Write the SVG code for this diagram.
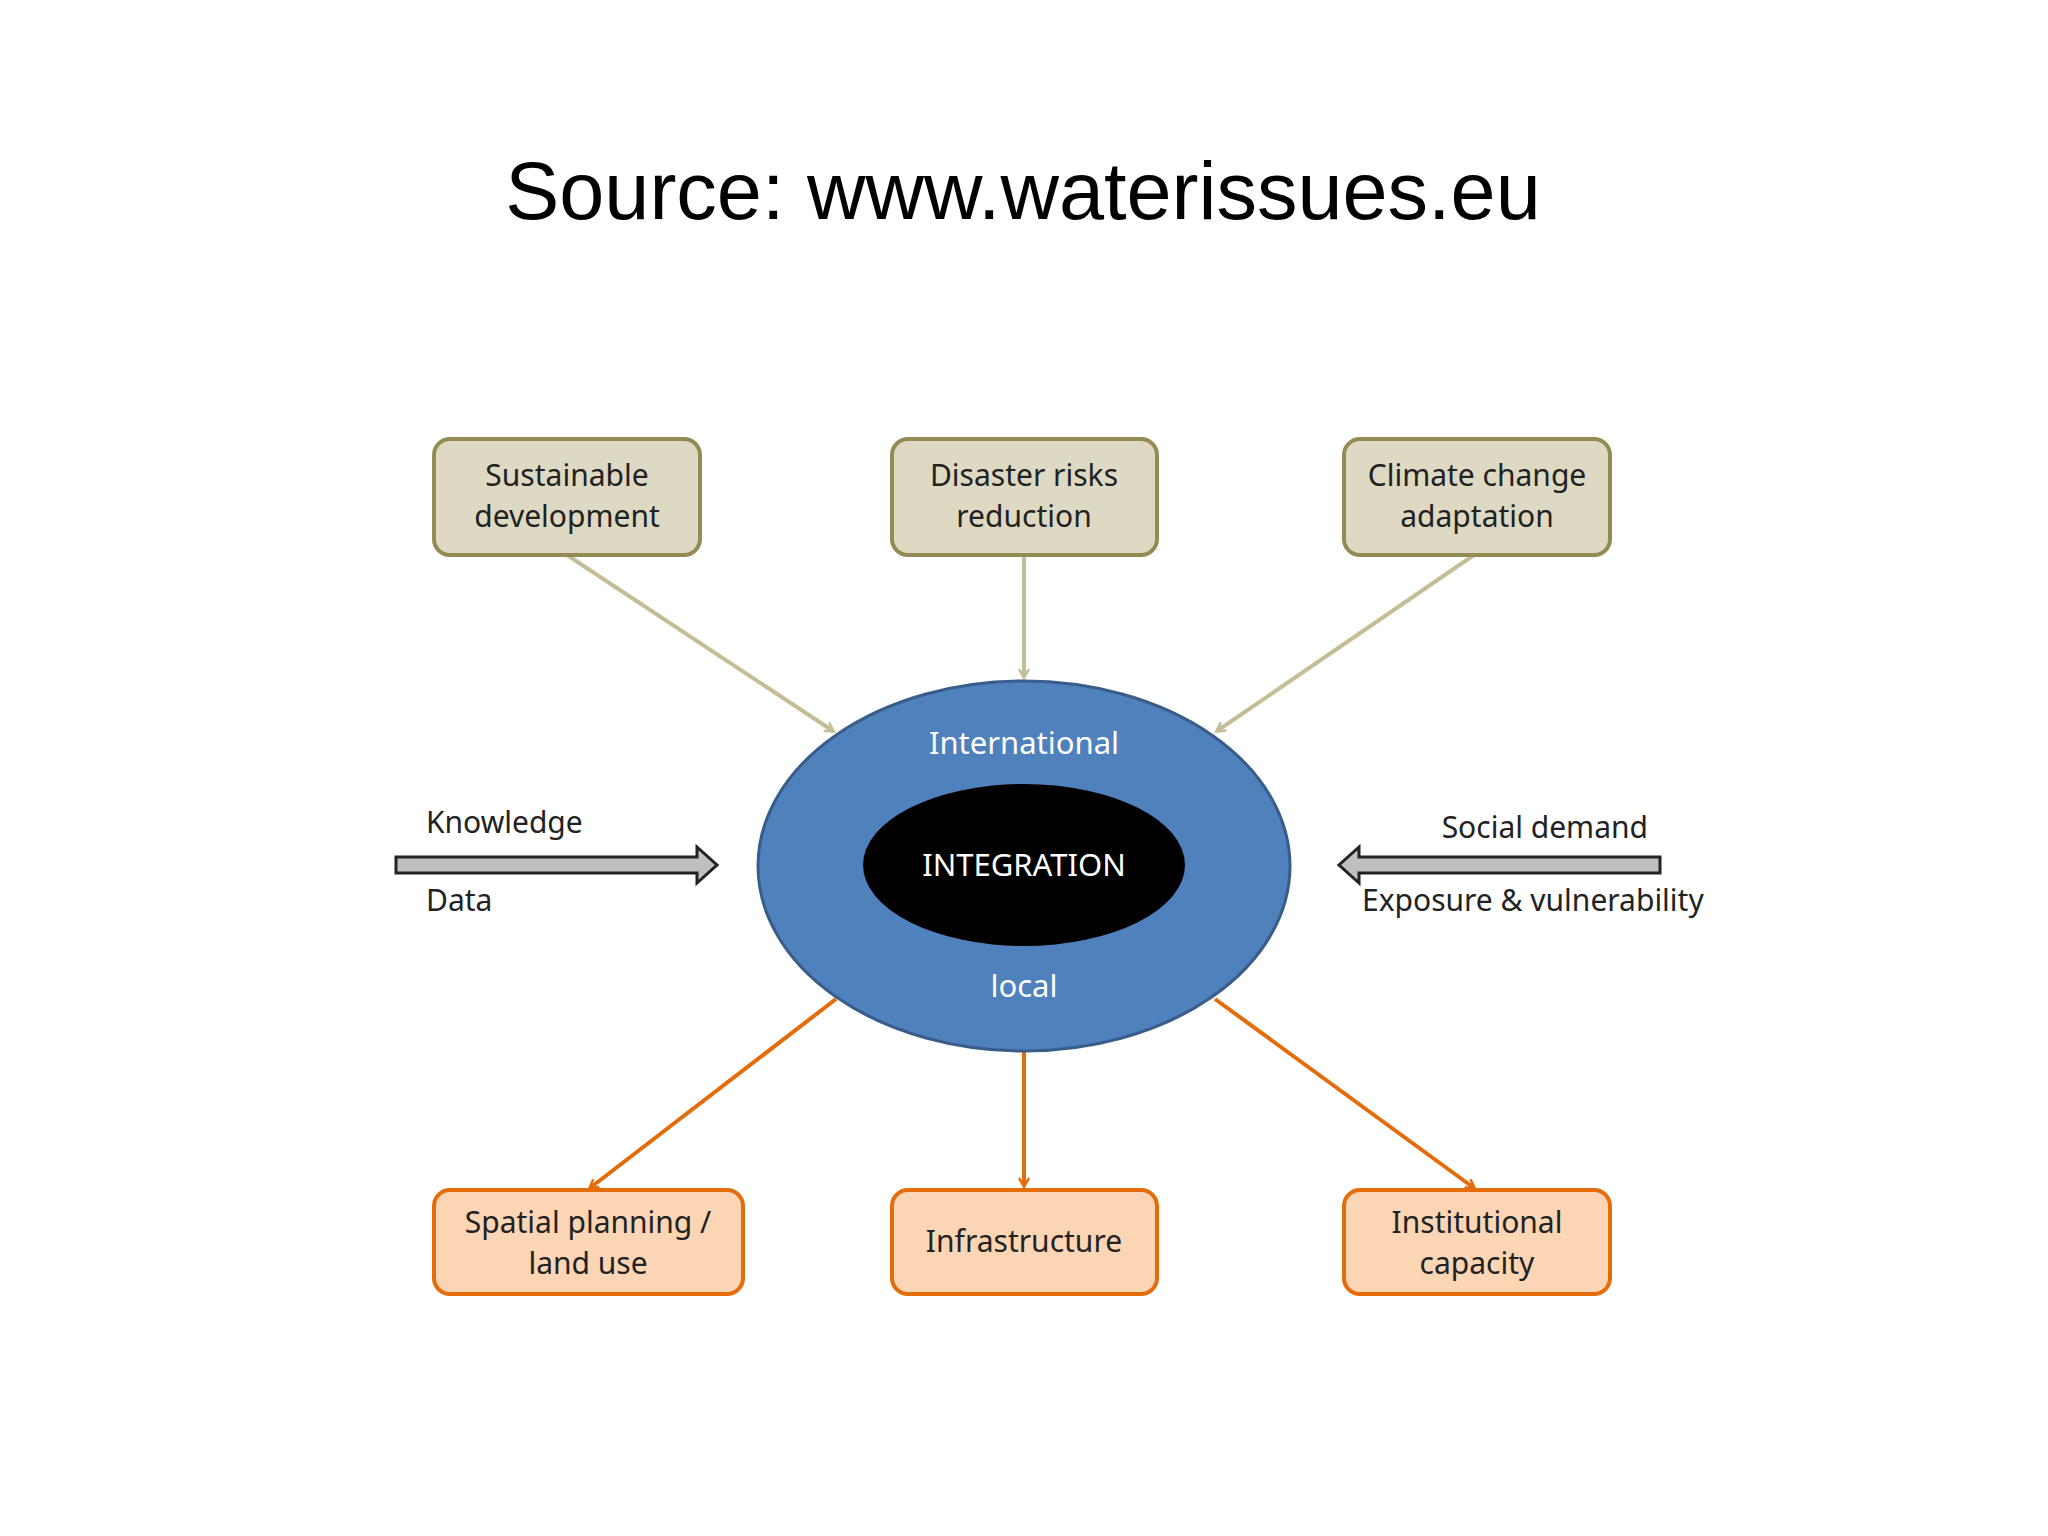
<svg xmlns="http://www.w3.org/2000/svg" width="2048" height="1536" viewBox="0 0 2048 1536">
<style>
.t{font-family:"Noto Sans","Open Sans",sans-serif;font-size:30px;fill:#222;text-anchor:middle}
.w{fill:#fff;font-size:31px}
.top{fill:#ddd9c3;stroke:#948a54;stroke-width:4}
.bot{fill:#fcd5b5;stroke:#e46c0a;stroke-width:4}
.ta{stroke:#c4bd97;stroke-width:4;fill:none;marker-end:url(#mt)}
.ba{stroke:#e46c0a;stroke-width:4;fill:none;marker-end:url(#mb)}
</style>
<defs>
<marker id="mt" markerWidth="12" markerHeight="12" refX="9" refY="6" orient="auto" markerUnits="userSpaceOnUse" viewBox="0 0 12 12"><path d="M1,1 L10,6 L1,11" fill="none" stroke="#c4bd97" stroke-width="2.5"/></marker>
<marker id="mb" markerWidth="12" markerHeight="12" refX="9" refY="6" orient="auto" markerUnits="userSpaceOnUse" viewBox="0 0 12 12"><path d="M1,1 L10,6 L1,11" fill="none" stroke="#e46c0a" stroke-width="2.5"/></marker>
</defs>
<rect width="2048" height="1536" fill="#fff"/>
<text x="1023" y="219" style="font-family:'Liberation Sans',Arial,sans-serif;font-size:81px;text-anchor:middle;fill:#000">Source: www.waterissues.eu</text>
<g id="connectors">
<line class="ta" x1="567" y1="555" x2="833" y2="731"/>
<line class="ta" x1="1024" y1="555" x2="1024" y2="677"/>
<line class="ta" x1="1474" y1="555" x2="1217" y2="731"/>
<line class="ba" x1="836" y1="999" x2="590" y2="1188"/>
<line class="ba" x1="1024" y1="1051" x2="1024" y2="1186"/>
<line class="ba" x1="1215" y1="999" x2="1474" y2="1188"/>
<path d="M396,857 H697 V847 L717,865 L697,883 V873 H396 Z" fill="#bfbfbf" stroke="#222" stroke-width="3"/>
<path d="M1660,857 H1359 V847 L1339,865 L1359,883 V873 H1660 Z" fill="#bfbfbf" stroke="#222" stroke-width="3"/>
<text class="t" x="426" y="833" style="text-anchor:start">Knowledge</text>
<text class="t" x="426" y="911" style="text-anchor:start">Data</text>
<text class="t" x="1648" y="838" style="text-anchor:end">Social demand</text>
<text class="t" x="1362" y="911" style="text-anchor:start">Exposure &amp; vulnerability</text>
</g>
<g id="center">
<ellipse cx="1024" cy="866" rx="266" ry="185" fill="#4f81bd" stroke="#385d8a" stroke-width="3"/>
<ellipse cx="1024" cy="865" rx="161" ry="81" fill="#000"/>
<text class="t w" x="1024" y="754">International</text>
<text class="t w" x="1024" y="876">INTEGRATION</text>
<text class="t w" x="1024" y="997">local</text>
</g>
<g id="n1"><rect class="top" x="434" y="439" width="266" height="116" rx="16"/><text class="t" x="567" y="486">Sustainable</text><text class="t" x="567" y="527">development</text></g>
<g id="n2"><rect class="top" x="892" y="439" width="265" height="116" rx="16"/><text class="t" x="1024" y="486">Disaster risks</text><text class="t" x="1024" y="527">reduction</text></g>
<g id="n3"><rect class="top" x="1344" y="439" width="266" height="116" rx="16"/><text class="t" x="1477" y="486">Climate change</text><text class="t" x="1477" y="527">adaptation</text></g>
<g id="n4"><rect class="bot" x="434" y="1190" width="309" height="104" rx="16"/><text class="t" x="588" y="1233">Spatial planning /</text><text class="t" x="588" y="1274">land use</text></g>
<g id="n5"><rect class="bot" x="892" y="1190" width="265" height="104" rx="16"/><text class="t" x="1024" y="1252">Infrastructure</text></g>
<g id="n6"><rect class="bot" x="1344" y="1190" width="266" height="104" rx="16"/><text class="t" x="1477" y="1233">Institutional</text><text class="t" x="1477" y="1274">capacity</text></g>
</svg>
